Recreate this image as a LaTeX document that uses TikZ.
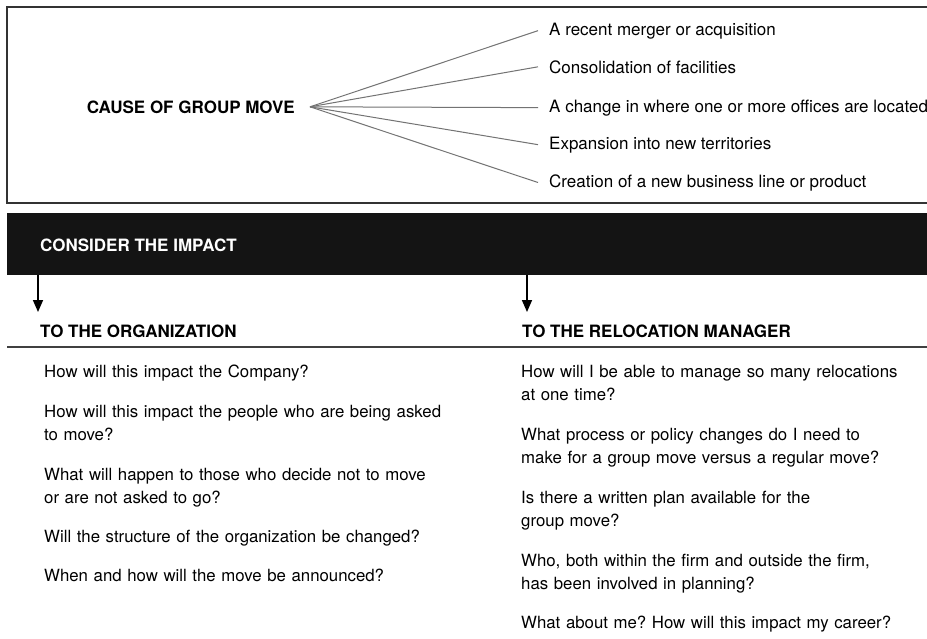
\documentclass[tikz,border=0pt]{standalone}
\usepackage{fontspec}
\setmainfont{TeX Gyre Heros}
\frenchspacing
\usetikzlibrary{arrows.meta}
\tikzset{
FRAME/.style ={draw=black!80,line width=1.2pt},
RULE/.style ={draw=black!75,line width=1.2pt},
FAN/.style ={draw=black!55,line width=1pt},
BAND/.style={draw=none,fill=black!92,inner sep=0pt,anchor=north west},
DOWN/.style ={draw=black,line width=1.6pt,-{Triangle[width=10pt,length=12pt]}},
HEAD/.style={font=\fontsize{17}{20}\selectfont\bfseries,inner sep=0pt,anchor=base west},
ITEM/.style={font=\fontsize{17}{21}\selectfont,inner sep=0pt,anchor=base west},
ASK/.style={font=\fontsize{16.8}{23}\selectfont,inner sep=0pt,anchor=base west,text width=440pt,align=left},
}

\begin{document}
\begin{tikzpicture}[x=1pt,y=-1pt] % group move: causes and impact
	\useasboundingbox[fill=white] (0,0) rectangle (927,638);
	% causes
	\path[FRAME] (940,7) -| (7,203) -- (940,203);
	\node[HEAD,anchor=base east] (cause) at (295,113) {CAUSE OF GROUP MOVE};
	\coordinate (hub) at ([xshift=15pt]cause.east);
	\node[ITEM] (c1) at (549,35) {A recent merger or acquisition};
	\node[ITEM] (c2) at (549,73) {Consolidation of facilities};
	\node[ITEM] (c3) at (549,112) {A change in where one or more offices are located};
	\node[ITEM] (c4) at (549,149) {Expansion into new territories};
	\node[ITEM] (c5) at (549,187) {Creation of a new business line or product};
	\foreach \i in {1,...,5} \path[FAN] (hub) -- ([xshift=-11pt]c\i.west);
	% impact
	\node[BAND,minimum width=933pt,minimum height=62pt] (band) at (7,213) {};
	\node[HEAD,text=white] (impact) at (40,251) {CONSIDER THE IMPACT};
	\node[HEAD] (org) at (40,337) {TO THE ORGANIZATION};
	\node[HEAD] (mgr) at (522,337) {TO THE RELOCATION MANAGER};
	\coordinate (t1) at (38,312);
	\coordinate (t2) at (527,312);
	\draw[DOWN] (t1 |- band.south) -- (t1);
	\draw[DOWN] (t2 |- band.south) -- (t2);
	\path[RULE] (7,347) -- (940,347);
	% questions
	\node[ASK] (o1) at (44,377) {How will this impact the Company?};
	\node[ASK] (o2) at (44,417) {How will this impact the people who are being asked\\to move?};
	\node[ASK] (o3) at (44,480) {What will happen to those who decide not to move\\or are not asked to go?};
	\node[ASK] (o4) at (44,542) {Will the structure of the organization be changed?};
	\node[ASK] (o5) at (44,581) {When and how will the move be announced?};
	\node[ASK] (m1) at (521,377) {How will I be able to manage so many relocations\\at one time?};
	\node[ASK] (m2) at (521,440) {What process or policy changes do I need to\\make for a group move versus a regular move?};
	\node[ASK] (m3) at (521,503) {Is there a written plan available for the\\group move?};
	\node[ASK] (m4) at (521,566) {Who, both within the firm and outside the firm,\\has been involved in planning?};
	\node[ASK] (m5) at (521,628) {What about me? How will this impact my career?};
\end{tikzpicture}
\end{document}
